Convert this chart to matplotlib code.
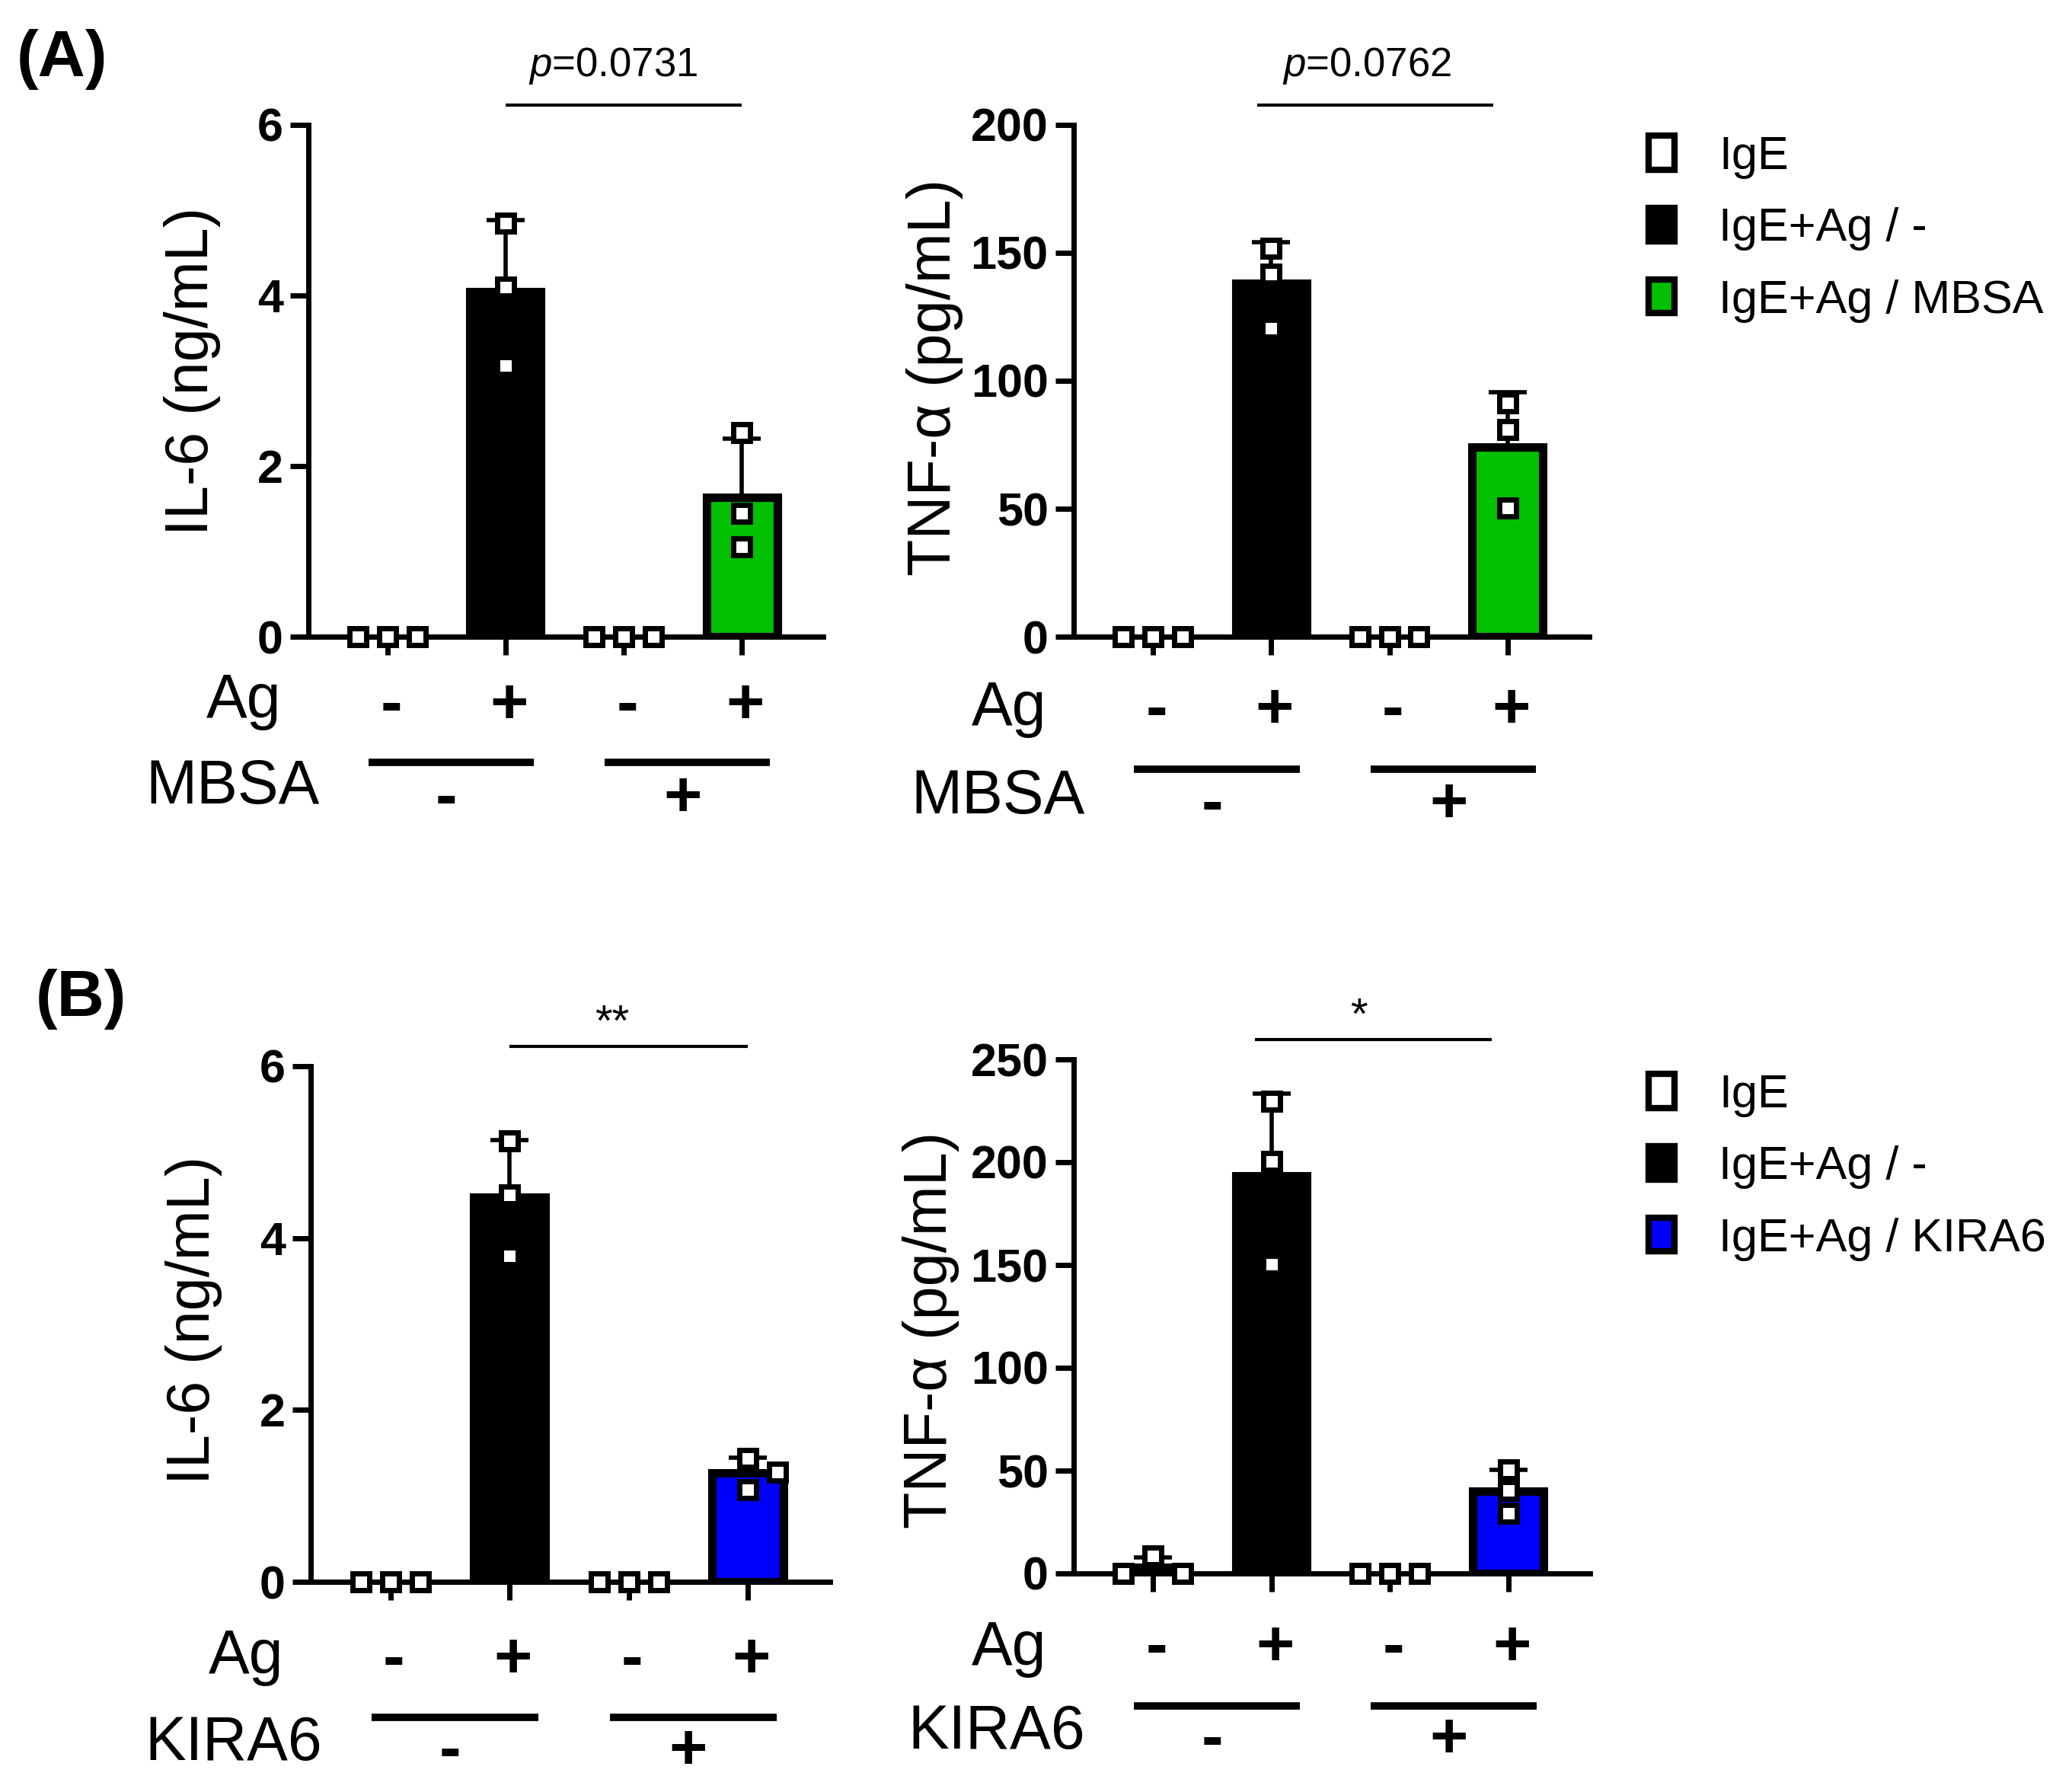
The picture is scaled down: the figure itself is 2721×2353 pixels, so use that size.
import numpy as np
import matplotlib
matplotlib.use('Agg')
import matplotlib.pyplot as plt
from matplotlib.patches import Patch
from matplotlib.transforms import offset_copy

plt.rcParams['font.family'] = ['Liberation Sans', 'DejaVu Sans']
plt.rcParams['mathtext.fontset'] = 'custom'
plt.rcParams['mathtext.it'] = 'Liberation Sans:italic'
plt.rcParams['mathtext.rm'] = 'Liberation Sans'

# ---- data ----
ag_signs = ['-', '+', '-', '+']
inhib_signs = ['-', '+']

# IL-6 (ng/mL), MBSA experiment: IgE | IgE+Ag | IgE+MBSA | IgE+Ag+MBSA
il6_mbsa = [[0, 0, 0], [4.85, 4.10, 3.18], [0, 0, 0], [2.39, 1.45, 1.05]]
# TNF-a (pg/mL), MBSA experiment
tnf_mbsa = [[0, 0, 0], [151.9, 141.8, 120.4], [0, 0, 0], [91.4, 80.9, 50.4]]
# IL-6 (ng/mL), KIRA6 experiment
il6_kira = [[0, 0, 0], [5.13, 4.50, 3.79], [0, 0, 0], [1.44, 1.28, 1.07]]
# TNF-a (pg/mL), KIRA6 experiment
tnf_kira = [[0, 8.5, 0], [229.5, 200.2, 150.4], [0, 0, 0], [50.3, 40.2, 29.3]]

legend_mbsa = ['IgE', 'IgE+Ag / -', 'IgE+Ag / MBSA']
legend_kira = ['IgE', 'IgE+Ag / -', 'IgE+Ag / KIRA6']

GREEN = '#00c000'
BLUE = '#0000ff'

W, H = 2721, 2353
fig = plt.figure(figsize=(W / 100, H / 100), dpi=100)


def px_axes(x0, x1, ytop, ybot):
    return fig.add_axes([x0 / W, 1 - ybot / H, (x1 - x0) / W, (ybot - ytop) / H])


def spread(vals, px_per_unit, min_px=26, step=0.25):
    # simple column scatter: move a point sideways when it would overlap
    offs = np.zeros(len(vals))
    placed = []
    for i in np.argsort(vals)[::-1]:
        for cand in (0, step, -step, 2 * step, -2 * step):
            ok = all(abs(cand - o) > 1e-9 or abs(vals[i] - y) * px_per_unit >= min_px
                     for o, y in placed)
            if ok:
                break
        offs[i] = cand
        placed.append((cand, vals[i]))
    return offs


def draw_panel(ax, groups, fill, ymax, ystep, ylabel, lab_xy, inhib, sig, sig_x, shift,
               sig_is_p, rows):
    x = np.arange(len(groups))
    means = np.array([np.mean(g) for g in groups])
    sds = np.array([np.std(g, ddof=1) for g in groups])
    colors = ['white', 'black', 'white', fill]
    lws = [8 if m > 0 else 0 for m in means]
    ax.bar(x, means, width=0.6, color=colors, edgecolor='black', linewidth=lws, zorder=2)
    ax.errorbar(x, means, yerr=[np.zeros(len(x)), sds], fmt='none', ecolor='black',
                elinewidth=4, capsize=18, capthick=4, zorder=3)
    h_px = ax.get_position().height * H
    for xi, g in zip(x, groups):
        g = np.array(g, dtype=float)
        offs = spread(g, h_px / ymax)
        ax.plot(xi + offs, g, 's', ms=16, mfc='white', mec='black', mew=5,
                zorder=4, clip_on=False)

    ax.set_xlim(-0.67, 3.69)
    ax.set_ylim(0, ymax)
    for s in ['top', 'right']:
        ax.spines[s].set_visible(False)
    for s in ['left', 'bottom']:
        ax.spines[s].set_linewidth(5)
    ax.set_xticks(x)
    ax.set_xticklabels([])
    ax.set_yticks(np.arange(0, ymax + 1e-9, ystep))
    ax.tick_params(direction='out', length=17, width=5, labelsize=44, pad=7)
    for lab in ax.get_yticklabels():
        lab.set_fontweight('bold')
    ax.set_ylabel(ylabel, fontsize=57, va='center')
    ax.yaxis.set_label_coords(*lab_xy)

    # treatment rows under the axis (offsets in pixels below the x axis)
    ag_y, sign_y, line_y, name_y, sign2_y = rows
    tx = ax.get_xaxis_transform()

    def below(px):
        return offset_copy(tx, fig=fig, y=-px, units='dots')

    ax.text(0, 0, 'Ag', transform=offset_copy(ax.transAxes, fig=fig, x=-36, y=-ag_y, units='dots'),
            ha='right', va='center', fontsize=58)
    for xi, s in zip(x, ag_signs):
        ax.text(xi + 0.03, 0, s, transform=below(sign_y), ha='center', va='center',
                fontsize=62, fontweight='bold')
    for k, s in enumerate(inhib_signs):
        a, b = x[2 * k], x[2 * k + 1]
        ax.plot([a - 0.16, b + 0.24], [0, 0], transform=below(line_y), color='black',
                lw=7, clip_on=False, solid_capstyle='butt')
        ax.text((a + b) / 2, 0, s, transform=below(sign2_y), ha='center', va='center',
                fontsize=62, fontweight='bold')
    ax.text(0, 0, inhib, transform=offset_copy(ax.transAxes, fig=fig, x=15, y=-name_y, units='dots'),
            ha='right', va='center', fontsize=58)

    # significance bracket
    top = offset_copy(tx, fig=fig, y=26, units='dots')
    ax.plot([1 - shift, 3 - shift], [1, 1], transform=top, color='black', lw=3,
            clip_on=False, solid_capstyle='butt')
    if sig_is_p:
        ax.text(sig_x, 1, sig, transform=offset_copy(tx, fig=fig, y=64, units='dots'),
                ha='center', va='baseline', fontsize=38)
    else:
        ax.text(sig_x, 1, sig, transform=offset_copy(tx, fig=fig, y=40, units='dots'),
                ha='center', va='baseline', fontsize=42)


ax1 = px_axes(405, 1081, 164, 836)
draw_panel(ax1, il6_mbsa, GREEN, 6, 2, 'IL-6 (ng/mL)', (-0.226, 0.519), 'MBSA',
           '$p$=0.0731', 1.91, 0.0, True, (85, 92, 165, 198, 214))
ax2 = px_axes(1410, 2087, 164, 836)
draw_panel(ax2, tnf_mbsa, GREEN, 200, 50, 'TNF-α (pg/mL)', (-0.27, 0.507), 'MBSA',
           '$p$=0.0762', 1.81, 0.12, True, (95, 98, 174, 211, 222))
ax3 = px_axes(408, 1090, 1400, 2077)
draw_panel(ax3, il6_kira, BLUE, 6, 2, 'IL-6 (ng/mL)', (-0.225, 0.507), 'KIRA6',
           '**', 1.86, 0.0, False, (99, 104, 178, 213, 224))
ax4 = px_axes(1410, 2088, 1391, 2066)
draw_panel(ax4, tnf_kira, BLUE, 250, 50, 'TNF-α (pg/mL)', (-0.276, 0.473), 'KIRA6',
           '*', 1.74, 0.14, False, (99, 99, 174, 209, 220))


def add_legend(labels, fill, top_px):
    handles = [Patch(facecolor='white', edgecolor='black', linewidth=6),
               Patch(facecolor='black', edgecolor='black', linewidth=6),
               Patch(facecolor=fill, edgecolor='black', linewidth=6)]
    fig.legend(handles, labels, loc='upper left', bbox_to_anchor=(2165 / W, 1 - top_px / H),
               frameon=False, fontsize=44, handlelength=0.56, handleheight=0.74,
               handletextpad=0.95, labelspacing=0.61, borderpad=0, borderaxespad=0)


add_legend(legend_mbsa, GREEN, 178)
add_legend(legend_kira, BLUE, 1410)

fig.text(81 / W, 1 - 78 / H, '(A)', ha='center', va='center', fontsize=62, fontweight='bold')
fig.text(106 / W, 1 - 1312 / H, '(B)', ha='center', va='center', fontsize=62, fontweight='bold')

fig.savefig('out.png', dpi=100, facecolor='white')
